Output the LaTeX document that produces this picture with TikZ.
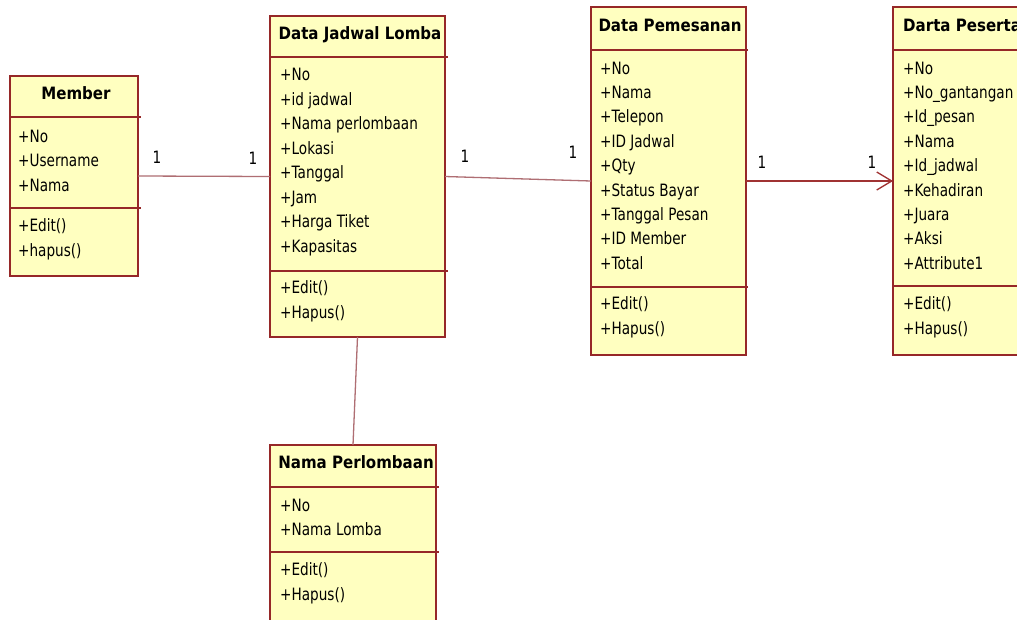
\documentclass[tikz,border=0pt]{standalone}
\usepackage{fontspec}
\setmainfont{DejaVu Sans}[FakeStretch=0.8]
\newfontfamily\headfont{DejaVu Sans}[FakeStretch=0.885]
\usetikzlibrary{arrows.meta}
\definecolor{umlred}{RGB}{150,40,40}
\definecolor{umlfill}{RGB}{255,255,192}
\definecolor{linkpale}{RGB}{175,110,115}
\definecolor{linkdark}{RGB}{160,50,50}

\begin{document}
\begin{tikzpicture}[x=1pt,y=-1pt,
  classbox/.style={draw=umlred, fill=umlfill, line width=1.5pt, inner sep=0pt, outer sep=0pt, anchor=north west},
  sepline/.style={draw=umlred, line width=1.3pt},
  attr/.style={anchor=base west, inner sep=0pt, font=\fontsize{17}{20}\selectfont},
  ctitle/.style={anchor=base, inner sep=0pt, font=\headfont\bfseries\fontsize{17}{20}\selectfont},
  assoc/.style={draw=linkpale, line width=1.3pt},
  assocdark/.style={draw=linkdark, line width=1.3pt},
  mult/.style={inner sep=0pt, font=\fontsize{17}{20}\selectfont}]

\useasboundingbox (0,0) rectangle (1017,619);
\clip (0,0) rectangle (1017,619);
\fill[white] (0,0) rectangle (1017,619);

% ---- Member ----
\node[classbox, minimum width=128pt, minimum height=200pt] (member) at (10,76) {};
\draw[sepline] (10,117) -- (141,117);
\draw[sepline] (10,208) -- (141,208);
\node[ctitle] (member-t) at (76,99) {Member};
\foreach \t [count=\i from 0] in {+No, +Username, +Nama}
  \node[attr] (member-a\i) at (18,{142+24.5*\i}) {\t};
\foreach \t [count=\i from 0] in {+Edit(), +hapus()}
  \node[attr] (member-m\i) at (18,{231+25*\i}) {\t};

% ---- Data Jadwal Lomba ----
\node[classbox, minimum width=175pt, minimum height=321pt] (jadwal) at (270,16) {};
\draw[sepline] (270,57) -- (448,57);
\draw[sepline] (270,271) -- (448,271);
\node[ctitle] (jadwal-t) at (360,39) {Data Jadwal Lomba};
\foreach \t [count=\i from 0] in {+No, +id jadwal, +Nama perlombaan, +Lokasi, +Tanggal, +Jam, +Harga Tiket, +Kapasitas}
  \node[attr] (jadwal-a\i) at (280,{80.5+24.5*\i}) {\t};
\foreach \t [count=\i from 0] in {+Edit(), +Hapus()}
  \node[attr] (jadwal-m\i) at (280,{293+25*\i}) {\t};

% ---- Data Pemesanan ----
\node[classbox, minimum width=155pt, minimum height=348pt] (pesan) at (591,7) {};
\draw[sepline] (591,50) -- (748,50);
\draw[sepline] (591,287) -- (748,287);
\node[ctitle] (pesan-t) at (670,31) {Data Pemesanan};
\foreach \t [count=\i from 0] in {+No, +Nama, +Telepon, +ID Jadwal, +Qty, +Status Bayar, +Tanggal Pesan, +ID Member, +Total}
  \node[attr] (pesan-a\i) at (600,{74+24.4*\i}) {\t};
\foreach \t [count=\i from 0] in {+Edit(), +Hapus()}
  \node[attr] (pesan-m\i) at (600,{309+25*\i}) {\t};

% ---- Darta Peserta ----
\node[classbox, minimum width=150pt, minimum height=348pt] (peserta) at (893,7) {};
\draw[sepline] (893,50) -- (1043,50);
\draw[sepline] (893,286) -- (1043,286);
\node[ctitle, anchor=base west] (peserta-t) at (903,31) {Darta Peserta};
\foreach \t [count=\i from 0] in {+No, +No\_gantangan, +Id\_pesan, +Nama, +Id\_jadwal, +Kehadiran, +Juara, +Aksi, +Attribute1}
  \node[attr] (peserta-a\i) at (903,{74+24.4*\i}) {\t};
\foreach \t [count=\i from 0] in {+Edit(), +Hapus()}
  \node[attr] (peserta-m\i) at (903,{309+25*\i}) {\t};

% ---- Nama Perlombaan ----
\node[classbox, minimum width=166pt, minimum height=200pt] (nama) at (270,445) {};
\draw[sepline] (270,487) -- (439,487);
\draw[sepline] (270,552) -- (439,552);
\node[ctitle] (nama-t) at (356,468) {Nama Perlombaan};
\foreach \t [count=\i from 0] in {+No, +Nama Lomba}
  \node[attr] (nama-a\i) at (280,{511+24.5*\i}) {\t};
\foreach \t [count=\i from 0] in {+Edit(), +Hapus()}
  \node[attr] (nama-m\i) at (280,{575+25.5*\i}) {\t};

% ---- associations ----
\draw[assoc] (member.east) -- (jadwal.west);
\draw[assoc] (jadwal.east) -- (pesan.west);
\draw[assocdark, -{Straight Barb[length=15pt,width=18pt]}] (pesan.east) -- (peserta.west);
\draw[assoc] (jadwal.south) -- (nama.north);

% ---- multiplicities ----
\node[mult] (mult-a) at (157,157) {1};
\node[mult] (mult-b) at (253,158) {1};
\node[mult] (mult-c) at (465,156) {1};
\node[mult] (mult-d) at (573,152) {1};
\node[mult] (mult-e) at (762,162) {1};
\node[mult] (mult-f) at (872,162) {1};
\end{tikzpicture}
\end{document}
